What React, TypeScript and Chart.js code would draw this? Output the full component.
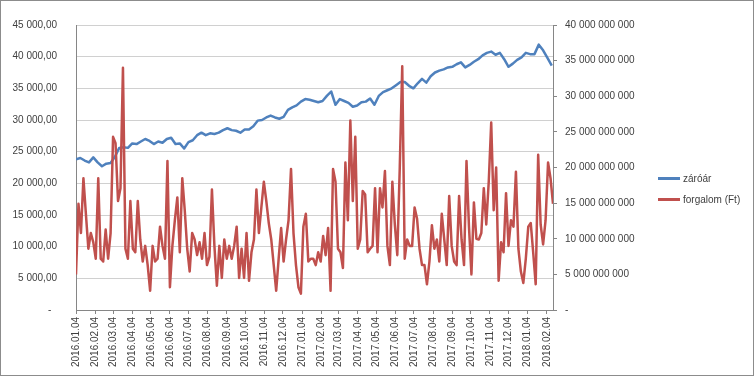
import React, { useEffect, useRef } from "react";
import { Chart, registerables } from "chart.js";

Chart.register(...registerables);

// ---- DATA ----
const START_DATE = "2016.01.04";
const LAST_DAY = 772;

const xTickLabels = [
  "2016.01.04", "2016.02.04", "2016.03.04", "2016.04.04", "2016.05.04", "2016.06.04",
  "2016.07.04", "2016.08.04", "2016.09.04", "2016.10.04", "2016.11.04", "2016.12.04",
  "2017.01.04", "2017.02.04", "2017.03.04", "2017.04.04", "2017.05.04", "2017.06.04",
  "2017.07.04", "2017.08.04", "2017.09.04", "2017.10.04", "2017.11.04", "2017.12.04",
  "2018.01.04", "2018.02.04",
];

// záróár: one reading every 7 calendar days from 2016.01.04
const zaroarStepDays = 7;
const zaroar = [
  23800, 24000, 23600, 23300, 24100, 23300, 22700, 23100, 23200, 24200,
  25600, 25700, 25600, 26300, 26200, 26600, 27000, 26700, 26200, 26600,
  26400, 27000, 27200, 26200, 26300, 25500, 26500, 26800, 27600, 28000,
  27600, 27900, 27800, 28000, 28400, 28700, 28400, 28300, 28000, 28500,
  28500, 29000, 29900, 30000, 30400, 30700, 30400, 30200, 30500, 31600,
  32000, 32300, 32900, 33300, 33200, 33000, 32800, 33000, 33800, 34500,
  32400, 33300, 33000, 32700, 32100, 32300, 32800, 32900, 33400, 32400,
  33800, 34400, 34700, 35000, 35500, 36000, 36000, 35400, 35000, 35800,
  36500, 35900, 36900, 37500, 37800, 38000, 38300, 38400, 38800, 39100,
  38300, 38700, 39200, 39600, 40200, 40600, 40800, 40300, 40600, 39600,
  38400, 38900, 39500, 39900, 40600, 40400, 40400, 41900, 41000, 39800,
  38600,
];

// forgalom (Ft), in milliárd Ft: one reading every 4 calendar days from 2016.01.04
const forgalomStepDays = 4;
const forgalomMrd = [
  5.0, 14.9, 10.8, 18.5, 13.5, 8.6, 10.8, 9.5, 7.2, 18.5,
  7.2, 6.8, 11.3, 7.2, 10.8, 24.3, 23.4, 15.3, 17.1, 34.0,
  8.6, 7.2, 15.3, 8.6, 8.1, 15.3, 9.9, 6.8, 9.0, 6.3,
  2.7, 9.0, 6.8, 7.2, 11.7, 9.0, 7.2, 20.9, 3.2, 9.0,
  12.6, 15.8, 8.1, 18.5, 14.0, 8.6, 5.4, 10.8, 9.9, 7.7,
  9.5, 7.2, 10.8, 6.3, 7.5, 16.9, 9.0, 3.4, 9.0, 4.5,
  9.9, 7.2, 9.0, 7.2, 9.0, 11.7, 4.5, 8.6, 4.5, 10.8,
  4.1, 8.1, 9.9, 16.9, 10.8, 14.4, 18.0, 15.3, 12.2, 9.9,
  6.3, 2.7, 7.2, 11.5, 6.8, 9.9, 12.6, 19.8, 10.8, 6.3,
  3.2, 2.3, 11.7, 13.5, 6.8, 7.2, 7.2, 6.3, 8.1, 6.8,
  10.4, 7.7, 11.5, 2.7, 19.8, 18.0, 8.6, 8.1, 5.9, 20.7,
  12.6, 26.6, 15.3, 24.3, 8.6, 9.9, 16.7, 16.2, 8.1, 8.6,
  9.0, 17.1, 8.1, 17.1, 14.4, 19.5, 9.0, 6.3, 18.0, 12.0,
  7.7, 20.0, 34.2, 7.2, 9.9, 9.0, 9.0, 14.4, 12.8, 8.6,
  6.3, 6.3, 3.6, 6.8, 11.9, 8.6, 9.9, 6.8, 13.5, 9.9,
  6.3, 16.0, 9.0, 6.8, 6.3, 16.0, 9.9, 6.3, 20.9, 11.7,
  5.0, 15.1, 10.0, 9.9, 10.8, 17.1, 12.0, 18.0, 26.3, 14.0,
  20.0, 4.1, 9.5, 8.1, 16.4, 9.0, 12.6, 11.7, 19.4, 8.6,
  5.4, 3.8, 7.2, 11.7, 12.2, 8.0, 3.6, 21.8, 12.0, 9.2,
  12.6, 20.7, 18.5, 14.9,
];

const seriesNames = ["záróár", "forgalom (Ft)"];

// ---- helpers ----
const DAY_MS = 86400000;
function parseLabel(s: string): number {
  const [y, m, d] = s.split(".").map(Number);
  return Date.UTC(y, m - 1, d);
}
const startMs = parseLabel(START_DATE);
function labelToDay(s: string): number {
  return Math.round((parseLabel(s) - startMs) / DAY_MS);
}
const tickDays = xTickLabels.map(labelToDay);

function groupThousands(n: number): string {
  return String(Math.round(n)).replace(/\B(?=(\d{3})+(?!\d))/g, " ");
}

const BLUE = "#4F81BD";
const RED = "#C0504D";
const TEXT = "#404040";
const FONT = "'Liberation Sans', Arial, sans-serif";

export default function App() {
  const canvasRef = useRef<HTMLCanvasElement | null>(null);

  useEffect(() => {
    document.body.style.margin = "0";
    const canvas = canvasRef.current;
    if (!canvas) return;

    const blueData = zaroar.map((v, i) => ({ x: i * zaroarStepDays, y: v }));
    const redData = forgalomMrd.map((v, i) => ({ x: i * forgalomStepDays, y: v * 1e9 }));

    const chart = new Chart(canvas, {
      type: "line",
      data: {
        datasets: [
          {
            label: seriesNames[1],
            data: redData,
            yAxisID: "y1",
            borderColor: RED,
            backgroundColor: RED,
            borderWidth: 2.5,
            pointRadius: 0,
            tension: 0,
            borderJoinStyle: "round",
          },
          {
            label: seriesNames[0],
            data: blueData,
            yAxisID: "y",
            borderColor: BLUE,
            backgroundColor: BLUE,
            borderWidth: 2.5,
            pointRadius: 0,
            tension: 0,
            borderJoinStyle: "round",
          },
        ],
      },
      options: {
        animation: false,
        responsive: false,
        devicePixelRatio: 1,
        layout: { padding: { top: 14, left: 0, right: 0, bottom: 0 } },
        plugins: {
          legend: { display: false },
          tooltip: { enabled: false },
        },
        font: { family: FONT, size: 10 },
        scales: {
          x: {
            type: "linear",
            min: 0,
            max: LAST_DAY,
            afterBuildTicks: (scale: any) => {
              scale.ticks = tickDays.map((d) => ({ value: d }));
            },
            afterFit: (scale: any) => {
              scale.height = 66;
            },
            ticks: {
              autoSkip: false,
              minRotation: 90,
              maxRotation: 90,
              padding: 3,
              color: TEXT,
              font: { family: FONT, size: 10 },
              callback: (value: any) => {
                const idx = tickDays.indexOf(Number(value));
                return idx >= 0 ? xTickLabels[idx] : "";
              },
            },
            grid: {
              drawOnChartArea: false,
              drawTicks: true,
              tickLength: 4,
              color: "#868686",
            },
            border: { display: true, color: "#868686" },
          },
          y: {
            type: "linear",
            position: "left",
            min: 0,
            max: 45000,
            afterFit: (scale: any) => {
              scale.width = 76;
            },
            ticks: {
              stepSize: 5000,
              padding: 19,
              color: TEXT,
              font: { family: FONT, size: 10 },
              callback: (value: any) =>
                Number(value) === 0 ? "-  " : groupThousands(Number(value)) + ",00",
            },
            grid: {
              color: "#d0d0d0",
              drawTicks: false,
            },
            border: { display: true, color: "#868686" },
          },
          y1: {
            type: "linear",
            position: "right",
            min: 0,
            max: 40e9,
            afterFit: (scale: any) => {
              scale.width = 201;
            },
            ticks: {
              stepSize: 5e9,
              padding: 8,
              color: TEXT,
              font: { family: FONT, size: 10 },
              callback: (value: any) =>
                Number(value) === 0 ? "-" : groupThousands(Number(value)),
            },
            grid: {
              drawOnChartArea: false,
              drawTicks: true,
              tickLength: 4,
              color: "#868686",
            },
            border: { display: true, color: "#868686" },
          },
        },
      },
    } as any);

    return () => {
      chart.destroy();
    };
  }, []);

  const legendItems = [
    { name: seriesNames[0], color: BLUE, top: 178 },
    { name: seriesNames[1], color: RED, top: 199 },
  ];

  return (
    <div
      style={{
        position: "absolute",
        left: 0,
        top: 0,
        width: 754,
        height: 376,
        background: "#ffffff",
        overflow: "hidden",
      }}
    >
      <canvas
        ref={canvasRef}
        width={754}
        height={376}
        style={{ position: "absolute", left: 0, top: 0, width: 754, height: 376 }}
      />
      {legendItems.map((it) => (
        <div
          key={it.name}
          style={{
            position: "absolute",
            left: 658,
            top: it.top - 8,
            height: 16,
            display: "flex",
            alignItems: "center",
            fontFamily: FONT,
            fontSize: 10,
            color: TEXT,
            whiteSpace: "nowrap",
          }}
        >
          <span
            style={{
              display: "inline-block",
              width: 22,
              height: 3,
              background: it.color,
              marginRight: 3,
            }}
          />
          <span>{it.name}</span>
        </div>
      ))}
      <div
        style={{
          position: "absolute",
          left: 0,
          top: 0,
          width: 754,
          height: 376,
          boxSizing: "border-box",
          border: "1px solid #8c8c8c",
          pointerEvents: "none",
        }}
      />
    </div>
  );
}
